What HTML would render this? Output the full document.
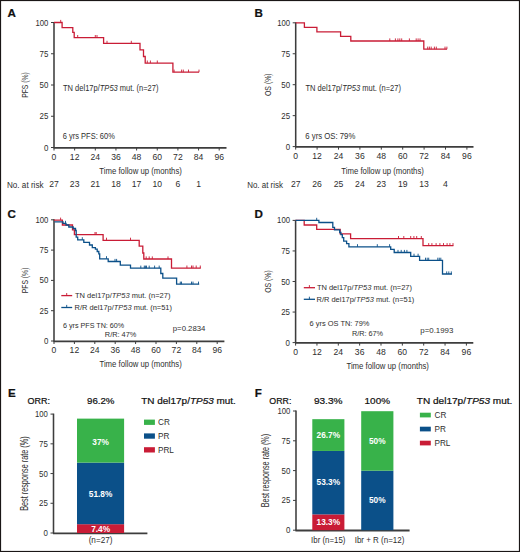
<!DOCTYPE html><html><head><meta charset="utf-8"><style>html,body{margin:0;padding:0;background:#fff}svg{display:block}</style></head><body>
<svg width="520" height="552" viewBox="0 0 520 552" font-family='"Liberation Sans", sans-serif'>
<rect x="0" y="0" width="520" height="552" fill="#fff"/>
<text x="7.5" y="16.8" font-size="11.6" text-anchor="start" font-weight="bold" fill="#111" stroke="#111" stroke-width="0.22">A</text>
<path d="M54,22.0 V147.5" stroke="#3d3d3d" stroke-width="1.55" fill="none"/>
<path d="M53.4,147.8 H226.5" stroke="#3d3d3d" stroke-width="1.8" fill="none"/>
<text x="48.4" y="150.5" font-size="8.6" text-anchor="end" font-weight="normal" fill="#2e2e2e" textLength="4.4" lengthAdjust="spacingAndGlyphs" >0</text>
<text x="48.4" y="119.25" font-size="8.6" text-anchor="end" font-weight="normal" fill="#2e2e2e" textLength="8.8" lengthAdjust="spacingAndGlyphs" >25</text>
<text x="48.4" y="88.0" font-size="8.6" text-anchor="end" font-weight="normal" fill="#2e2e2e" textLength="8.8" lengthAdjust="spacingAndGlyphs" >50</text>
<text x="48.4" y="56.75" font-size="8.6" text-anchor="end" font-weight="normal" fill="#2e2e2e" textLength="8.8" lengthAdjust="spacingAndGlyphs" >75</text>
<text x="48.4" y="25.5" font-size="8.6" text-anchor="end" font-weight="normal" fill="#2e2e2e" textLength="12.9" lengthAdjust="spacingAndGlyphs" >100</text>
<text x="54.00" y="159.9" font-size="8.6" text-anchor="middle" font-weight="normal" fill="#2e2e2e" >0</text>
<text x="74.65" y="159.9" font-size="8.6" text-anchor="middle" font-weight="normal" fill="#2e2e2e" >12</text>
<text x="95.30" y="159.9" font-size="8.6" text-anchor="middle" font-weight="normal" fill="#2e2e2e" >24</text>
<text x="115.95" y="159.9" font-size="8.6" text-anchor="middle" font-weight="normal" fill="#2e2e2e" >36</text>
<text x="136.60" y="159.9" font-size="8.6" text-anchor="middle" font-weight="normal" fill="#2e2e2e" >48</text>
<text x="157.25" y="159.9" font-size="8.6" text-anchor="middle" font-weight="normal" fill="#2e2e2e" >60</text>
<text x="177.90" y="159.9" font-size="8.6" text-anchor="middle" font-weight="normal" fill="#2e2e2e" >72</text>
<text x="198.55" y="159.9" font-size="8.6" text-anchor="middle" font-weight="normal" fill="#2e2e2e" >84</text>
<text x="219.20" y="159.9" font-size="8.6" text-anchor="middle" font-weight="normal" fill="#2e2e2e" >96</text>
<path d="M51,147.50 H54M51,116.25 H54M51,85.00 H54M51,53.75 H54M51,22.50 H54 M54.00,147.5 V150.5 M74.65,147.5 V150.5 M95.30,147.5 V150.5 M115.95,147.5 V150.5 M136.60,147.5 V150.5 M157.25,147.5 V150.5 M177.90,147.5 V150.5 M198.55,147.5 V150.5 M219.20,147.5 V150.5" stroke="#3d3d3d" stroke-width="1" fill="none"/>
<text x="0" y="0" font-size="9.6" fill="#2e2e2e" text-anchor="middle" textLength="25.6" lengthAdjust="spacingAndGlyphs" transform="translate(28.4,85.0) rotate(-90)">PFS (%)</text>
<path d="M54,22.5 H62.1 V27.6 H72.8 V32.4 H74.2 V37.6 H103.6 V43.4 H140 V49.9 H143.5 V56.5 H145.2 V63.1 H172.9 V72.2 H199" fill="none" stroke="#c91c36" stroke-width="1.3" stroke-linejoin="miter"/>
<path d="M60.7,22.5 V19.9 M77.7,37.6 V35.0 M95.3,37.6 V35.0 M97,37.6 V35.0 M107,43.4 V40.8 M131.3,43.4 V40.8 M147.3,63.1 V60.5 M150.4,63.1 V60.5 M157.3,63.1 V60.5 M174.1,72.2 V69.60000000000001 M181.6,72.2 V69.60000000000001 M183.3,72.2 V69.60000000000001 M188.5,72.2 V69.60000000000001 M199,72.2 V69.60000000000001" fill="none" stroke="#c91c36" stroke-width="0.9"/>
<text x="63" y="90.9" font-size="8.2" text-anchor="start" font-weight="normal" fill="#2e2e2e" textLength="95.5" lengthAdjust="spacingAndGlyphs" >TN del17p/<tspan font-style="italic">TP53</tspan> mut. (n=27)</text>
<text x="62.8" y="139.2" font-size="8.2" text-anchor="start" font-weight="normal" fill="#2e2e2e" textLength="52" lengthAdjust="spacingAndGlyphs" >6 yrs PFS: 60%</text>
<text x="140.6" y="173.8" font-size="9" text-anchor="middle" font-weight="normal" fill="#2e2e2e" textLength="82.5" lengthAdjust="spacingAndGlyphs" >Time follow up (months)</text>
<text x="7" y="188" font-size="8.2" text-anchor="start" font-weight="normal" fill="#2e2e2e" textLength="36.5" lengthAdjust="spacingAndGlyphs" >No. at risk</text>
<text x="54.00" y="187" font-size="8.6" text-anchor="middle" font-weight="normal" fill="#2e2e2e" >27</text>
<text x="74.65" y="187" font-size="8.6" text-anchor="middle" font-weight="normal" fill="#2e2e2e" >23</text>
<text x="95.30" y="187" font-size="8.6" text-anchor="middle" font-weight="normal" fill="#2e2e2e" >21</text>
<text x="115.95" y="187" font-size="8.6" text-anchor="middle" font-weight="normal" fill="#2e2e2e" >18</text>
<text x="136.60" y="187" font-size="8.6" text-anchor="middle" font-weight="normal" fill="#2e2e2e" >17</text>
<text x="157.25" y="187" font-size="8.6" text-anchor="middle" font-weight="normal" fill="#2e2e2e" >10</text>
<text x="177.90" y="187" font-size="8.6" text-anchor="middle" font-weight="normal" fill="#2e2e2e" >6</text>
<text x="198.55" y="187" font-size="8.6" text-anchor="middle" font-weight="normal" fill="#2e2e2e" >1</text>
<text x="254.4" y="16.9" font-size="11.6" text-anchor="start" font-weight="bold" fill="#111" stroke="#111" stroke-width="0.22">B</text>
<path d="M295.7,22.3 V146.6" stroke="#3d3d3d" stroke-width="1.55" fill="none"/>
<path d="M295.09999999999997,146.9 H473.5" stroke="#3d3d3d" stroke-width="1.8" fill="none"/>
<text x="290.09999999999997" y="149.6" font-size="8.6" text-anchor="end" font-weight="normal" fill="#2e2e2e" textLength="4.4" lengthAdjust="spacingAndGlyphs" >0</text>
<text x="290.09999999999997" y="118.64999999999999" font-size="8.6" text-anchor="end" font-weight="normal" fill="#2e2e2e" textLength="8.8" lengthAdjust="spacingAndGlyphs" >25</text>
<text x="290.09999999999997" y="87.69999999999999" font-size="8.6" text-anchor="end" font-weight="normal" fill="#2e2e2e" textLength="8.8" lengthAdjust="spacingAndGlyphs" >50</text>
<text x="290.09999999999997" y="56.75" font-size="8.6" text-anchor="end" font-weight="normal" fill="#2e2e2e" textLength="8.8" lengthAdjust="spacingAndGlyphs" >75</text>
<text x="290.09999999999997" y="25.799999999999997" font-size="8.6" text-anchor="end" font-weight="normal" fill="#2e2e2e" textLength="12.9" lengthAdjust="spacingAndGlyphs" >100</text>
<text x="295.70" y="159.0" font-size="8.6" text-anchor="middle" font-weight="normal" fill="#2e2e2e" >0</text>
<text x="317.10" y="159.0" font-size="8.6" text-anchor="middle" font-weight="normal" fill="#2e2e2e" >12</text>
<text x="338.50" y="159.0" font-size="8.6" text-anchor="middle" font-weight="normal" fill="#2e2e2e" >24</text>
<text x="359.90" y="159.0" font-size="8.6" text-anchor="middle" font-weight="normal" fill="#2e2e2e" >36</text>
<text x="381.30" y="159.0" font-size="8.6" text-anchor="middle" font-weight="normal" fill="#2e2e2e" >48</text>
<text x="402.70" y="159.0" font-size="8.6" text-anchor="middle" font-weight="normal" fill="#2e2e2e" >60</text>
<text x="424.10" y="159.0" font-size="8.6" text-anchor="middle" font-weight="normal" fill="#2e2e2e" >72</text>
<text x="445.50" y="159.0" font-size="8.6" text-anchor="middle" font-weight="normal" fill="#2e2e2e" >84</text>
<text x="466.90" y="159.0" font-size="8.6" text-anchor="middle" font-weight="normal" fill="#2e2e2e" >96</text>
<path d="M292.7,146.60 H295.7M292.7,115.65 H295.7M292.7,84.70 H295.7M292.7,53.75 H295.7M292.7,22.80 H295.7 M295.70,146.6 V149.6 M317.10,146.6 V149.6 M338.50,146.6 V149.6 M359.90,146.6 V149.6 M381.30,146.6 V149.6 M402.70,146.6 V149.6 M424.10,146.6 V149.6 M445.50,146.6 V149.6 M466.90,146.6 V149.6" stroke="#3d3d3d" stroke-width="1" fill="none"/>
<text x="0" y="0" font-size="9.9" fill="#2e2e2e" text-anchor="middle" textLength="22.6" lengthAdjust="spacingAndGlyphs" transform="translate(271.1,84.7) rotate(-90)">OS (%)</text>
<path d="M295.7,22.8 H304.4 V27.3 H316.9 V31.9 H340.6 V36.4 H350.8 V41.0 H423.8 V49.2 H447" fill="none" stroke="#c91c36" stroke-width="1.3" stroke-linejoin="miter"/>
<path d="M389.8,41.0 V38.4 M395.4,41.0 V38.4 M397.9,41.0 V38.4 M399.8,41.0 V38.4 M401.7,41.0 V38.4 M409.4,41.0 V38.4 M416.2,41.0 V38.4 M418.1,41.0 V38.4 M420,41.0 V38.4 M427.7,49.2 V46.6 M429.4,49.2 V46.6 M431.2,49.2 V46.6 M434.4,49.2 V46.6 M436.3,49.2 V46.6 M445,49.2 V46.6 M446.9,49.2 V46.6" fill="none" stroke="#c91c36" stroke-width="0.9"/>
<text x="305.4" y="90.9" font-size="8.2" text-anchor="start" font-weight="normal" fill="#2e2e2e" textLength="95.6" lengthAdjust="spacingAndGlyphs" >TN del17p/<tspan font-style="italic">TP53</tspan> mut. (n=27)</text>
<text x="305.3" y="139.0" font-size="8.2" text-anchor="start" font-weight="normal" fill="#2e2e2e" textLength="50" lengthAdjust="spacingAndGlyphs" >6 yrs OS: 79%</text>
<text x="382.6" y="173.9" font-size="9" text-anchor="middle" font-weight="normal" fill="#2e2e2e" textLength="82.5" lengthAdjust="spacingAndGlyphs" >Time follow up (months)</text>
<text x="247.2" y="188" font-size="8.2" text-anchor="start" font-weight="normal" fill="#2e2e2e" textLength="35.8" lengthAdjust="spacingAndGlyphs" >No. at risk</text>
<text x="295.70" y="187" font-size="8.6" text-anchor="middle" font-weight="normal" fill="#2e2e2e" >27</text>
<text x="317.10" y="187" font-size="8.6" text-anchor="middle" font-weight="normal" fill="#2e2e2e" >26</text>
<text x="338.50" y="187" font-size="8.6" text-anchor="middle" font-weight="normal" fill="#2e2e2e" >25</text>
<text x="359.90" y="187" font-size="8.6" text-anchor="middle" font-weight="normal" fill="#2e2e2e" >24</text>
<text x="381.30" y="187" font-size="8.6" text-anchor="middle" font-weight="normal" fill="#2e2e2e" >23</text>
<text x="402.70" y="187" font-size="8.6" text-anchor="middle" font-weight="normal" fill="#2e2e2e" >19</text>
<text x="424.10" y="187" font-size="8.6" text-anchor="middle" font-weight="normal" fill="#2e2e2e" >13</text>
<text x="445.50" y="187" font-size="8.6" text-anchor="middle" font-weight="normal" fill="#2e2e2e" >4</text>
<text x="7.4" y="217.9" font-size="11.6" text-anchor="start" font-weight="bold" fill="#111" stroke="#111" stroke-width="0.22">C</text>
<path d="M54,219.3 V341" stroke="#3d3d3d" stroke-width="1.55" fill="none"/>
<path d="M53.4,341.3 H224.4" stroke="#3d3d3d" stroke-width="1.8" fill="none"/>
<text x="48.4" y="344.0" font-size="8.6" text-anchor="end" font-weight="normal" fill="#2e2e2e" textLength="4.4" lengthAdjust="spacingAndGlyphs" >0</text>
<text x="48.4" y="313.7" font-size="8.6" text-anchor="end" font-weight="normal" fill="#2e2e2e" textLength="8.8" lengthAdjust="spacingAndGlyphs" >25</text>
<text x="48.4" y="283.4" font-size="8.6" text-anchor="end" font-weight="normal" fill="#2e2e2e" textLength="8.8" lengthAdjust="spacingAndGlyphs" >50</text>
<text x="48.4" y="253.10000000000002" font-size="8.6" text-anchor="end" font-weight="normal" fill="#2e2e2e" textLength="8.8" lengthAdjust="spacingAndGlyphs" >75</text>
<text x="48.4" y="222.8" font-size="8.6" text-anchor="end" font-weight="normal" fill="#2e2e2e" textLength="12.9" lengthAdjust="spacingAndGlyphs" >100</text>
<text x="54.00" y="353.4" font-size="8.6" text-anchor="middle" font-weight="normal" fill="#2e2e2e" >0</text>
<text x="74.40" y="353.4" font-size="8.6" text-anchor="middle" font-weight="normal" fill="#2e2e2e" >12</text>
<text x="94.80" y="353.4" font-size="8.6" text-anchor="middle" font-weight="normal" fill="#2e2e2e" >24</text>
<text x="115.20" y="353.4" font-size="8.6" text-anchor="middle" font-weight="normal" fill="#2e2e2e" >36</text>
<text x="135.60" y="353.4" font-size="8.6" text-anchor="middle" font-weight="normal" fill="#2e2e2e" >48</text>
<text x="156.00" y="353.4" font-size="8.6" text-anchor="middle" font-weight="normal" fill="#2e2e2e" >60</text>
<text x="176.40" y="353.4" font-size="8.6" text-anchor="middle" font-weight="normal" fill="#2e2e2e" >72</text>
<text x="196.80" y="353.4" font-size="8.6" text-anchor="middle" font-weight="normal" fill="#2e2e2e" >84</text>
<text x="217.20" y="353.4" font-size="8.6" text-anchor="middle" font-weight="normal" fill="#2e2e2e" >96</text>
<path d="M51,341.00 H54M51,310.70 H54M51,280.40 H54M51,250.10 H54M51,219.80 H54 M54.00,341 V344 M74.40,341 V344 M94.80,341 V344 M115.20,341 V344 M135.60,341 V344 M156.00,341 V344 M176.40,341 V344 M196.80,341 V344 M217.20,341 V344" stroke="#3d3d3d" stroke-width="1" fill="none"/>
<text x="0" y="0" font-size="9.6" fill="#2e2e2e" text-anchor="middle" textLength="25.6" lengthAdjust="spacingAndGlyphs" transform="translate(28.4,280.4) rotate(-90)">PFS (%)</text>
<path d="M54,220.2 H62.4 V225.0 H72.5 V229.8 H74.4 V234.6 H103.1 V240.3 H139.2 V246.2 H142.8 V253.0 H143.8 V259.0 H171.5 V268.1 H200.8" fill="none" stroke="#c91c36" stroke-width="1.3" stroke-linejoin="miter"/>
<path d="M60.6,220.2 V217.6 M95.0,234.6 V232.0 M96.2,234.6 V232.0 M106.5,240.3 V237.70000000000002 M130.5,240.3 V237.70000000000002 M146.2,259.0 V256.4 M149.2,259.0 V256.4 M152.3,259.0 V256.4 M168,259.0 V256.4 M186.9,268.1 V265.5 M191.5,268.1 V265.5 M193,268.1 V265.5 M196.2,268.1 V265.5 M200.3,268.1 V265.5" fill="none" stroke="#c91c36" stroke-width="0.9"/>
<path d="M54.5,221.8 H63 V223.4 H66 V225.0 H68.8 V227.0 H73.2 V228.5 H75.5 V230.5 H76.2 V237.1 H77.7 V239.8 H83.8 V242.4 H89.5 V245.0 H92.3 V247.7 H95.4 V249.2 H97.2 V251.5 H98.8 V253.8 H99.7 V258.8 H108.2 V261.5 H120.3 V265.1 H130.5 V268.2 H160.8 V273.5 H162.8 V278.1 H176.6 V284.2 H199.2" fill="none" stroke="#0b5089" stroke-width="1.3" stroke-linejoin="miter"/>
<path d="M65.5,223.4 V220.8 M82.3,239.8 V237.20000000000002 M106.5,258.8 V256.2 M115,261.5 V258.9 M116.6,261.5 V258.9 M140.8,268.2 V265.59999999999997 M144.3,268.2 V265.59999999999997 M145.4,268.2 V265.59999999999997 M146.5,268.2 V265.59999999999997 M149.2,268.2 V265.59999999999997 M154.6,268.2 V265.59999999999997 M159.2,268.2 V265.59999999999997 M180.3,284.2 V281.59999999999997 M181.5,284.2 V281.59999999999997 M191.5,284.2 V281.59999999999997 M193,284.2 V281.59999999999997 M198.5,284.2 V281.59999999999997" fill="none" stroke="#0b5089" stroke-width="0.9"/>
<path d="M61.3,295.6 H72.2" stroke="#c91c36" stroke-width="1.3"/><path d="M66.7,295.6 V293" stroke="#c91c36" stroke-width="0.9"/>
<path d="M61.3,307.5 H72.2" stroke="#0b5089" stroke-width="1.3"/><path d="M66.7,307.5 V304.9" stroke="#0b5089" stroke-width="0.9"/>
<text x="75" y="297.8" font-size="7.9" text-anchor="start" font-weight="normal" fill="#2e2e2e" textLength="95.5" lengthAdjust="spacingAndGlyphs" >TN del17p/<tspan font-style="italic">TP53</tspan> mut. (n=27)</text>
<text x="74.5" y="309.6" font-size="7.9" text-anchor="start" font-weight="normal" fill="#2e2e2e" textLength="97.5" lengthAdjust="spacingAndGlyphs" >R/R del17p/<tspan font-style="italic">TP53</tspan> mut. (n=51)</text>
<text x="63.0" y="327.6" font-size="8.0" text-anchor="start" font-weight="normal" fill="#2e2e2e" textLength="61.2" lengthAdjust="spacingAndGlyphs" >6 yrs PFS TN: 60%</text>
<text x="104.8" y="336.9" font-size="8.0" text-anchor="start" font-weight="normal" fill="#2e2e2e" textLength="31.6" lengthAdjust="spacingAndGlyphs" >R/R: 47%</text>
<text x="172.8" y="330.5" font-size="8.0" text-anchor="start" font-weight="normal" fill="#2e2e2e" textLength="32.6" lengthAdjust="spacingAndGlyphs" >p=0.2834</text>
<text x="140.6" y="367.2" font-size="9" text-anchor="middle" font-weight="normal" fill="#2e2e2e" textLength="82.3" lengthAdjust="spacingAndGlyphs" >Time follow up (months)</text>
<text x="254.5" y="217.9" font-size="11.6" text-anchor="start" font-weight="bold" fill="#111" stroke="#111" stroke-width="0.22">D</text>
<path d="M295.6,219.9 V342.6" stroke="#3d3d3d" stroke-width="1.55" fill="none"/>
<path d="M295.0,342.90000000000003 H473.3" stroke="#3d3d3d" stroke-width="1.8" fill="none"/>
<text x="290.0" y="345.6" font-size="8.6" text-anchor="end" font-weight="normal" fill="#2e2e2e" textLength="4.4" lengthAdjust="spacingAndGlyphs" >0</text>
<text x="290.0" y="315.05" font-size="8.6" text-anchor="end" font-weight="normal" fill="#2e2e2e" textLength="8.8" lengthAdjust="spacingAndGlyphs" >25</text>
<text x="290.0" y="284.5" font-size="8.6" text-anchor="end" font-weight="normal" fill="#2e2e2e" textLength="8.8" lengthAdjust="spacingAndGlyphs" >50</text>
<text x="290.0" y="253.95000000000002" font-size="8.6" text-anchor="end" font-weight="normal" fill="#2e2e2e" textLength="8.8" lengthAdjust="spacingAndGlyphs" >75</text>
<text x="290.0" y="223.4" font-size="8.6" text-anchor="end" font-weight="normal" fill="#2e2e2e" textLength="12.9" lengthAdjust="spacingAndGlyphs" >100</text>
<text x="295.60" y="355.0" font-size="8.6" text-anchor="middle" font-weight="normal" fill="#2e2e2e" >0</text>
<text x="316.95" y="355.0" font-size="8.6" text-anchor="middle" font-weight="normal" fill="#2e2e2e" >12</text>
<text x="338.30" y="355.0" font-size="8.6" text-anchor="middle" font-weight="normal" fill="#2e2e2e" >24</text>
<text x="359.65" y="355.0" font-size="8.6" text-anchor="middle" font-weight="normal" fill="#2e2e2e" >36</text>
<text x="381.00" y="355.0" font-size="8.6" text-anchor="middle" font-weight="normal" fill="#2e2e2e" >48</text>
<text x="402.35" y="355.0" font-size="8.6" text-anchor="middle" font-weight="normal" fill="#2e2e2e" >60</text>
<text x="423.70" y="355.0" font-size="8.6" text-anchor="middle" font-weight="normal" fill="#2e2e2e" >72</text>
<text x="445.05" y="355.0" font-size="8.6" text-anchor="middle" font-weight="normal" fill="#2e2e2e" >84</text>
<text x="466.40" y="355.0" font-size="8.6" text-anchor="middle" font-weight="normal" fill="#2e2e2e" >96</text>
<path d="M292.6,342.60 H295.6M292.6,312.05 H295.6M292.6,281.50 H295.6M292.6,250.95 H295.6M292.6,220.40 H295.6 M295.60,342.6 V345.6 M316.95,342.6 V345.6 M338.30,342.6 V345.6 M359.65,342.6 V345.6 M381.00,342.6 V345.6 M402.35,342.6 V345.6 M423.70,342.6 V345.6 M445.05,342.6 V345.6 M466.40,342.6 V345.6" stroke="#3d3d3d" stroke-width="1" fill="none"/>
<text x="0" y="0" font-size="9.9" fill="#2e2e2e" text-anchor="middle" textLength="22.6" lengthAdjust="spacingAndGlyphs" transform="translate(271.1,281.5) rotate(-90)">OS (%)</text>
<path d="M295.6,220.4 H304.2 V225.0 H316.7 V229.4 H340.2 V233.8 H350.6 V238.6 H423 V245.7 H453.4" fill="none" stroke="#c91c36" stroke-width="1.3" stroke-linejoin="miter"/>
<path d="M398.5,238.6 V236.0 M403.8,238.6 V236.0 M410.7,238.6 V236.0 M413.9,238.6 V236.0 M416.7,238.6 V236.0 M421.3,238.6 V236.0 M428.7,245.7 V243.1 M431.9,245.7 V243.1 M436.1,245.7 V243.1 M439.9,245.7 V243.1 M443.5,245.7 V243.1 M447.1,245.7 V243.1 M449.9,245.7 V243.1 M453,245.7 V243.1" fill="none" stroke="#c91c36" stroke-width="0.9"/>
<path d="M295.6,220.4 H318.9 V222.5 H332.8 V227.3 H334.5 V229.9 H339.7 V232.5 H340.9 V234.7 H342.3 V237.7 H343.7 V241.1 H346.6 V243.7 H348.9 V246.8 H390.7 V249.3 H394.2 V252.5 H410.7 V256.3 H419.6 V260.3 H442.5 V274.0 H452" fill="none" stroke="#0b5089" stroke-width="1.3" stroke-linejoin="miter"/>
<path d="M316.7,220.4 V217.8 M357.5,246.8 V244.20000000000002 M377.3,246.8 V244.20000000000002 M389.6,246.8 V244.20000000000002 M398,252.5 V249.9 M401.2,252.5 V249.9 M404.4,252.5 V249.9 M406.9,252.5 V249.9 M414,256.3 V253.70000000000002 M418.1,256.3 V253.70000000000002 M425.5,260.3 V257.7 M427.2,260.3 V257.7 M428.7,260.3 V257.7 M437.8,260.3 V257.7 M439.3,260.3 V257.7 M440.8,260.3 V257.7 M446.7,274.0 V271.4 M448.8,274.0 V271.4 M451.3,274.0 V271.4" fill="none" stroke="#0b5089" stroke-width="0.9"/>
<path d="M303.8,287.7 H315" stroke="#c91c36" stroke-width="1.3"/><path d="M309.4,287.7 V285.1" stroke="#c91c36" stroke-width="0.9"/>
<path d="M303.8,299.3 H315" stroke="#0b5089" stroke-width="1.3"/><path d="M309.4,299.3 V296.7" stroke="#0b5089" stroke-width="0.9"/>
<text x="316.9" y="290.1" font-size="7.9" text-anchor="start" font-weight="normal" fill="#2e2e2e" textLength="95.1" lengthAdjust="spacingAndGlyphs" >TN del17p/<tspan font-style="italic">TP53</tspan> mut. (n=27)</text>
<text x="316.5" y="301.8" font-size="7.9" text-anchor="start" font-weight="normal" fill="#2e2e2e" textLength="97.8" lengthAdjust="spacingAndGlyphs" >R/R del17p/<tspan font-style="italic">TP53</tspan> mut. (n=51)</text>
<text x="309.6" y="326.4" font-size="8.0" text-anchor="start" font-weight="normal" fill="#2e2e2e" textLength="59.8" lengthAdjust="spacingAndGlyphs" >6 yrs OS TN: 79%</text>
<text x="351.9" y="336.1" font-size="8.0" text-anchor="start" font-weight="normal" fill="#2e2e2e" textLength="31.2" lengthAdjust="spacingAndGlyphs" >R/R: 67%</text>
<text x="420.3" y="332.8" font-size="8.0" text-anchor="start" font-weight="normal" fill="#2e2e2e" textLength="33.0" lengthAdjust="spacingAndGlyphs" >p=0.1993</text>
<text x="387.7" y="368.9" font-size="9" text-anchor="middle" font-weight="normal" fill="#2e2e2e" textLength="82.5" lengthAdjust="spacingAndGlyphs" >Time follow up (months)</text>
<text x="8" y="397" font-size="11.6" text-anchor="start" font-weight="bold" fill="#111" stroke="#111" stroke-width="0.22">E</text>
<path d="M53.5,413.6 V533" stroke="#3d3d3d" stroke-width="1.55" fill="none"/>
<path d="M52.9,533.3 H147.4" stroke="#3d3d3d" stroke-width="1.8" fill="none"/>
<text x="47.9" y="536.0" font-size="8.6" text-anchor="end" font-weight="normal" fill="#2e2e2e" textLength="4.4" lengthAdjust="spacingAndGlyphs" >0</text>
<text x="47.9" y="506.275" font-size="8.6" text-anchor="end" font-weight="normal" fill="#2e2e2e" textLength="8.8" lengthAdjust="spacingAndGlyphs" >25</text>
<text x="47.9" y="476.55" font-size="8.6" text-anchor="end" font-weight="normal" fill="#2e2e2e" textLength="8.8" lengthAdjust="spacingAndGlyphs" >50</text>
<text x="47.9" y="446.82500000000005" font-size="8.6" text-anchor="end" font-weight="normal" fill="#2e2e2e" textLength="8.8" lengthAdjust="spacingAndGlyphs" >75</text>
<text x="47.9" y="417.1" font-size="8.6" text-anchor="end" font-weight="normal" fill="#2e2e2e" textLength="12.9" lengthAdjust="spacingAndGlyphs" >100</text>
<path d="M50.5,533.00 H53.5 M50.5,503.27 H53.5 M50.5,473.55 H53.5 M50.5,443.83 H53.5 M50.5,414.10 H53.5 " stroke="#3d3d3d" stroke-width="1" fill="none"/>
<text x="0" y="0" font-size="10" fill="#2e2e2e" text-anchor="middle" textLength="74.5" lengthAdjust="spacingAndGlyphs" transform="translate(28.2,473.6) rotate(-90)">Best response rate (%)</text>
<rect x="77" y="524.20" width="47.1" height="8.80" fill="#c91c36"/>
<rect x="77" y="462.61" width="47.1" height="61.59" fill="#0b5089"/>
<rect x="77" y="418.62" width="47.1" height="43.99" fill="#38b24a"/>
<text x="100.6" y="444.5" font-size="8.3" text-anchor="middle" font-weight="bold" fill="#fff" >37%</text>
<text x="100.6" y="497.3" font-size="8.3" text-anchor="middle" font-weight="bold" fill="#fff" >51.8%</text>
<text x="100.6" y="532" font-size="8.3" text-anchor="middle" font-weight="bold" fill="#fff" >7.4%</text>
<text x="100.6" y="543.3" font-size="8.2" text-anchor="middle" font-weight="normal" fill="#2e2e2e" >(n=27)</text>
<text x="27.5" y="403.8" font-size="9.8" text-anchor="start" font-weight="normal" fill="#111" textLength="22.5" lengthAdjust="spacingAndGlyphs" stroke="#111" stroke-width="0.22">ORR:</text>
<text x="87" y="403.8" font-size="9.8" text-anchor="start" font-weight="normal" fill="#111" textLength="27.5" lengthAdjust="spacingAndGlyphs" stroke="#111" stroke-width="0.22">96.2%</text>
<text x="141.2" y="404" font-size="9.8" text-anchor="start" font-weight="normal" fill="#111" textLength="94.7" lengthAdjust="spacingAndGlyphs" stroke="#111" stroke-width="0.22">TN del17p/<tspan font-style="italic">TP53</tspan> mut.</text>
<rect x="144" y="419.6" width="10.9" height="5.3" fill="#38b24a"/>
<text x="158" y="424.90000000000003" font-size="8.2" text-anchor="start" font-weight="normal" fill="#2e2e2e" >CR</text>
<rect x="144" y="433.4" width="10.9" height="5.3" fill="#0b5089"/>
<text x="158" y="438.70000000000005" font-size="8.2" text-anchor="start" font-weight="normal" fill="#2e2e2e" >PR</text>
<rect x="144" y="447.2" width="10.9" height="5.3" fill="#c91c36"/>
<text x="158" y="452.50000000000006" font-size="8.2" text-anchor="start" font-weight="normal" fill="#2e2e2e" >PRL</text>
<text x="254.7" y="396.9" font-size="11.6" text-anchor="start" font-weight="bold" fill="#111" stroke="#111" stroke-width="0.22">F</text>
<path d="M296,410.5 V530.2" stroke="#3d3d3d" stroke-width="1.55" fill="none"/>
<path d="M295.4,530.5 H409.6" stroke="#3d3d3d" stroke-width="1.8" fill="none"/>
<text x="290.4" y="533.2" font-size="8.6" text-anchor="end" font-weight="normal" fill="#2e2e2e" textLength="4.4" lengthAdjust="spacingAndGlyphs" >0</text>
<text x="290.4" y="503.40000000000003" font-size="8.6" text-anchor="end" font-weight="normal" fill="#2e2e2e" textLength="8.8" lengthAdjust="spacingAndGlyphs" >25</text>
<text x="290.4" y="473.6" font-size="8.6" text-anchor="end" font-weight="normal" fill="#2e2e2e" textLength="8.8" lengthAdjust="spacingAndGlyphs" >50</text>
<text x="290.4" y="443.8" font-size="8.6" text-anchor="end" font-weight="normal" fill="#2e2e2e" textLength="8.8" lengthAdjust="spacingAndGlyphs" >75</text>
<text x="290.4" y="414.0" font-size="8.6" text-anchor="end" font-weight="normal" fill="#2e2e2e" textLength="12.9" lengthAdjust="spacingAndGlyphs" >100</text>
<path d="M293,530.20 H296 M293,500.40 H296 M293,470.60 H296 M293,440.80 H296 M293,411.00 H296 " stroke="#3d3d3d" stroke-width="1" fill="none"/>
<text x="0" y="0" font-size="10" fill="#2e2e2e" text-anchor="middle" textLength="73.5" lengthAdjust="spacingAndGlyphs" transform="translate(269.3,470.6) rotate(-90)">Best response rate (%)</text>
<rect x="312.3" y="514.37" width="32.1" height="15.83" fill="#c91c36"/>
<rect x="312.3" y="450.95" width="32.1" height="63.43" fill="#0b5089"/>
<rect x="312.3" y="419.17" width="32.1" height="31.77" fill="#38b24a"/>
<rect x="361.2" y="470.70" width="32.2" height="59.50" fill="#0b5089"/>
<rect x="361.2" y="411.20" width="32.2" height="59.50" fill="#38b24a"/>
<text x="328.3" y="438.2" font-size="8.3" text-anchor="middle" font-weight="bold" fill="#fff" >26.7%</text>
<text x="328.3" y="485.3" font-size="8.3" text-anchor="middle" font-weight="bold" fill="#fff" >53.3%</text>
<text x="328.3" y="525.4" font-size="8.3" text-anchor="middle" font-weight="bold" fill="#fff" >13.3%</text>
<text x="377.3" y="444.1" font-size="8.3" text-anchor="middle" font-weight="bold" fill="#fff" >50%</text>
<text x="377.3" y="503.1" font-size="8.3" text-anchor="middle" font-weight="bold" fill="#fff" >50%</text>
<text x="311.1" y="543.3" font-size="8.2" text-anchor="start" font-weight="normal" fill="#2e2e2e" textLength="34.4" lengthAdjust="spacingAndGlyphs" >Ibr (n=15)</text>
<text x="354.7" y="543.3" font-size="8.2" text-anchor="start" font-weight="normal" fill="#2e2e2e" textLength="49.7" lengthAdjust="spacingAndGlyphs" >Ibr + R (n=12)</text>
<text x="269.3" y="404" font-size="9.8" text-anchor="start" font-weight="normal" fill="#111" textLength="22.1" lengthAdjust="spacingAndGlyphs" stroke="#111" stroke-width="0.22">ORR:</text>
<text x="313.9" y="404" font-size="9.8" text-anchor="start" font-weight="normal" fill="#111" textLength="28.6" lengthAdjust="spacingAndGlyphs" stroke="#111" stroke-width="0.22">93.3%</text>
<text x="364.6" y="404" font-size="9.8" text-anchor="start" font-weight="normal" fill="#111" textLength="25.4" lengthAdjust="spacingAndGlyphs" stroke="#111" stroke-width="0.22">100%</text>
<text x="416.8" y="404" font-size="9.8" text-anchor="start" font-weight="normal" fill="#111" textLength="95.6" lengthAdjust="spacingAndGlyphs" stroke="#111" stroke-width="0.22">TN del17p/<tspan font-style="italic">TP53</tspan> mut.</text>
<rect x="419.9" y="412.7" width="10.9" height="4.7" fill="#38b24a"/>
<text x="434.5" y="418.0" font-size="8.2" text-anchor="start" font-weight="normal" fill="#2e2e2e" >CR</text>
<rect x="419.9" y="426.7" width="10.9" height="4.7" fill="#0b5089"/>
<text x="434.5" y="432.0" font-size="8.2" text-anchor="start" font-weight="normal" fill="#2e2e2e" >PR</text>
<rect x="419.9" y="440.7" width="10.9" height="4.7" fill="#c91c36"/>
<text x="434.5" y="446.0" font-size="8.2" text-anchor="start" font-weight="normal" fill="#2e2e2e" >PRL</text>
<rect x="0.5" y="0.5" width="519" height="551" fill="none" stroke="#1a1616" stroke-width="1.2"/>
</svg></body></html>
